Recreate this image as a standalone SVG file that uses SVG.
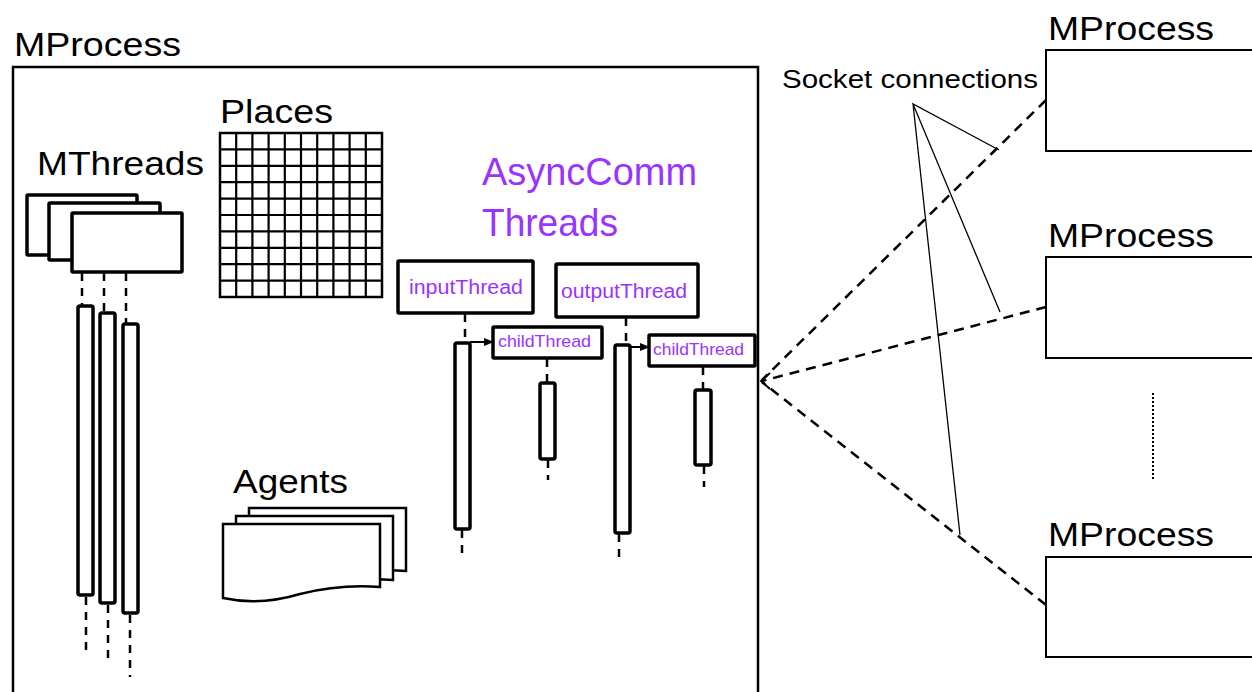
<svg xmlns="http://www.w3.org/2000/svg" width="1252" height="692" viewBox="0 0 1252 692">
<style>
text{font-family:"Liberation Sans",Arial,sans-serif;fill:#000}
.big{font-size:33px}
.purple{fill:#9933FF}
.box{fill:#fff;stroke:#000;stroke-width:2.5}
.thick{fill:#fff;stroke:#000;stroke-width:3.5}
.bar{fill:#fff;stroke:#000;stroke-width:3.5}
.dash{fill:none;stroke:#000;stroke-width:2.5;stroke-dasharray:8 7}
.sock{fill:none;stroke:#000;stroke-width:2.5;stroke-dasharray:10 7}
.thin{fill:none;stroke:#000;stroke-width:1.3}
</style>
<defs>
<marker id="tri" markerWidth="10" markerHeight="10" refX="9" refY="5" orient="auto" markerUnits="userSpaceOnUse">
<path d="M0,1 L10,5 L0,9 Z" fill="#000"/>
</marker>
</defs>
<rect width="1252" height="692" fill="#fff"/>

<g id="mprocess-main">
<text class="big" x="14" y="56" textLength="167" lengthAdjust="spacingAndGlyphs">MProcess</text>
<rect class="box" x="13" y="67" width="745" height="640"/>
</g>

<g id="mthreads">
<text class="big" x="37" y="175" textLength="167" lengthAdjust="spacingAndGlyphs">MThreads</text>
<rect class="thick" x="27" y="195" width="110" height="60" rx="1"/>
<rect class="thick" x="49" y="203" width="111" height="57" rx="1"/>
<rect class="thick" x="72" y="213" width="110" height="59" rx="1"/>
<rect class="bar" x="78" y="306" width="15" height="289" rx="2"/>
<rect class="bar" x="100" y="313" width="15" height="290" rx="2"/>
<rect class="bar" x="123" y="324" width="15" height="289" rx="2"/>
</g>

<g id="places">
<text class="big" x="220" y="123" textLength="113" lengthAdjust="spacingAndGlyphs">Places</text>
<rect x="220" y="133" width="162" height="164" fill="#fff" stroke="#000" stroke-width="2.5"/>
<path fill="none" stroke="#000" stroke-width="2.2" d="M236.2,133V297M252.4,133V297M268.6,133V297M284.8,133V297M301,133V297M317.2,133V297M333.4,133V297M349.6,133V297M365.8,133V297M220,149.4H382M220,165.8H382M220,182.2H382M220,198.6H382M220,215H382M220,231.4H382M220,247.8H382M220,264.2H382M220,280.6H382"/>
</g>

<g id="asynccomm">
<text class="purple" x="482" y="185" font-size="39" textLength="215" lengthAdjust="spacingAndGlyphs">AsyncComm</text>
<text class="purple" x="482" y="236" font-size="39" textLength="136" lengthAdjust="spacingAndGlyphs">Threads</text>
</g>

<g id="inputThread">
<rect class="thick" x="398" y="261" width="135" height="52" rx="1"/>
<text class="purple" x="409" y="294" font-size="20" textLength="114" lengthAdjust="spacingAndGlyphs">inputThread</text>
<rect class="bar" x="455" y="343" width="15" height="186" rx="2"/>
</g>

<g id="outputThread">
<rect class="thick" x="556" y="264" width="142" height="53" rx="1"/>
<text class="purple" x="561" y="298" font-size="20" textLength="126" lengthAdjust="spacingAndGlyphs">outputThread</text>
<rect class="bar" x="615" y="345" width="15" height="188" rx="2"/>
</g>

<g id="childThread1">
<rect class="thick" x="493" y="327" width="109" height="31" rx="1"/>
<text class="purple" x="498" y="347" font-size="17" textLength="93" lengthAdjust="spacingAndGlyphs">childThread</text>
<rect class="bar" x="540" y="383" width="15" height="76" rx="2"/>
</g>

<g id="childThread2">
<rect class="thick" x="649" y="335" width="106" height="31" rx="1"/>
<text class="purple" x="653" y="355" font-size="17" textLength="91" lengthAdjust="spacingAndGlyphs">childThread</text>
<rect class="bar" x="695" y="390" width="16" height="75" rx="2"/>
</g>

<g id="agents">
<text class="big" x="233" y="493" textLength="115" lengthAdjust="spacingAndGlyphs">Agents</text>
<path class="box" d="M249,508H406V571Q366,568 326,578Q286,589 249,582Z"/>
<path class="box" d="M236,516H393V580Q353,577 313,587Q273,598 236,591Z"/>
<path class="box" d="M223,524H380V587Q340,584 300,594Q260,606 223,598Z"/>
</g>

<g id="mprocess-1">
<text class="big" x="1048" y="40" textLength="166" lengthAdjust="spacingAndGlyphs">MProcess</text>
<rect x="1046" y="50" width="220" height="101" fill="#fff" stroke="#000" stroke-width="2"/>
</g>
<g id="mprocess-2">
<text class="big" x="1048" y="247" textLength="166" lengthAdjust="spacingAndGlyphs">MProcess</text>
<rect x="1046" y="257" width="220" height="101" fill="#fff" stroke="#000" stroke-width="2"/>
</g>
<g id="mprocess-3">
<text class="big" x="1048" y="546" textLength="166" lengthAdjust="spacingAndGlyphs">MProcess</text>
<rect x="1046" y="557" width="220" height="100" fill="#fff" stroke="#000" stroke-width="2"/>
</g>

<g id="socket-label">
<text x="782" y="88" font-size="25" textLength="256" lengthAdjust="spacingAndGlyphs">Socket connections</text>
</g>

<g id="connectors">
<path class="dash" d="M82,273V306M104,273V313M126,273V324"/>
<path class="dash" d="M86,597L86,657M108,605L108,665M130,615L130,677"/>
<path class="dash" d="M465,314V343M462,530V560M626,318V345M619,534V563M547,359V383M548,460V480M703,367V390M704,466V487"/>
<path d="M470,342H493" fill="none" stroke="#000" stroke-width="2" marker-end="url(#tri)"/>
<path d="M630,347H649" fill="none" stroke="#000" stroke-width="2" marker-end="url(#tri)"/>
<path class="sock" d="M1046,100L762,380"/>
<path class="sock" d="M1046,307L762,381"/>
<path class="sock" d="M1046,605L762,382"/>
<path d="M770,373L761,381L770,389" fill="none" stroke="#000" stroke-width="2"/>
<path class="thin" d="M999,150L913,104L1000,312M913,104L960,535"/>
<path d="M1153,393V480" fill="none" stroke="#000" stroke-width="2" stroke-dasharray="2 2"/>
</g>
</svg>
